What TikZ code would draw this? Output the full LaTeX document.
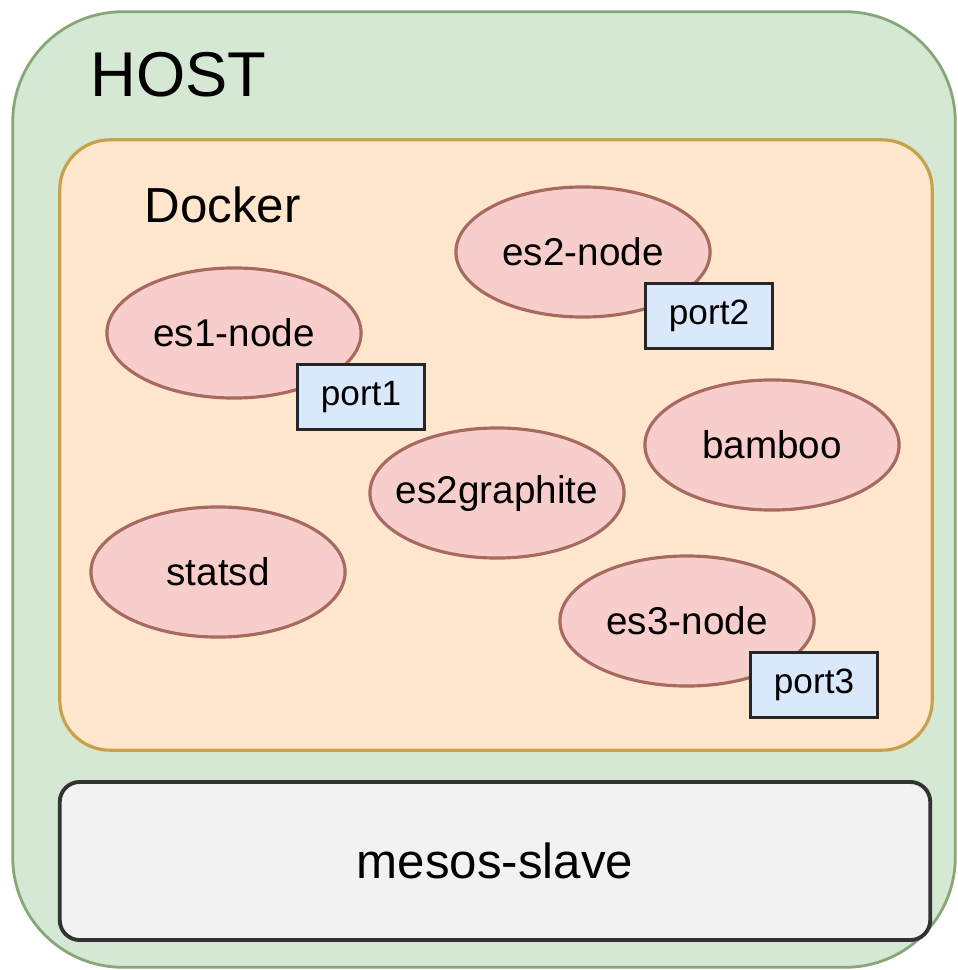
\documentclass[tikz,border=0pt]{standalone}
\usepackage{fontspec}
\setmainfont{Liberation Sans}
\usetikzlibrary{positioning, shapes.geometric}

\definecolor{hostfill}{HTML}{D5E8D4}
\definecolor{hostline}{HTML}{86A878}
\definecolor{dockfill}{HTML}{FFE6CC}
\definecolor{dockline}{HTML}{C9A04A}
\definecolor{contfill}{HTML}{F8CECC}
\definecolor{contline}{HTML}{A86A60}
\definecolor{portfill}{HTML}{DAE8FC}
\definecolor{slavefill}{HTML}{F2F2F2}

\begin{document}
\begin{tikzpicture}[x=0.01cm, y=0.01cm,
        container/.style={draw=contline, fill=contfill, ellipse, line width=0.9pt,
            minimum width=2.54cm, minimum height=1.3cm, inner sep=-4pt, font=\fontsize{11}{13}\selectfont},
        portbox/.style={draw=black!85, fill=portfill, rectangle, line width=1.1pt,
            minimum width=1.27cm, minimum height=0.65cm, inner sep=0pt, font=\fontsize{10}{12}\selectfont}]
        \useasboundingbox (0,0) rectangle (957,-970);

        % host and docker boxes
        \node[draw=hostline, fill=hostfill, rounded corners=1.1cm, line width=0.8pt,
            minimum width=9.42cm, minimum height=9.55cm] (host) at (484,-489.5) {};
        \node[draw=dockline, fill=dockfill, rounded corners=0.5cm, line width=0.9pt,
            minimum width=8.72cm, minimum height=6.10cm] (docker) at (496,-445) {};
        \node[anchor=base west, inner sep=0pt, font=\fontsize{18}{20}\selectfont] (hostlabel) at (90,-97) {HOST};
        \node[anchor=base west, inner sep=0pt, font=\fontsize{14}{16}\selectfont] (docklabel) at (144,-222) {Docker};

        % containers
        \node[container] (es2) at (583,-252) {es2-node};
        \node[container] (es1) at (234,-333) {es1-node};
        \node[container] (bamboo) at (772,-445) {bamboo};
        \node[container] (graphite) at (497,-493) {es2graphite};
        \node[container] (statsd) at (218,-572) {statsd};
        \node[container] (es3) at (687,-621) {es3-node};

        % ports
        \node[portbox] (port1) at (361,-397) {port1};
        \node[portbox] (port2) at (709,-316) {port2};
        \node[portbox] (port3) at (814,-685) {port3};

        % mesos slave
        \node[draw=black!80, fill=slavefill, rounded corners=0.2cm, line width=1.1pt,
            minimum width=8.70cm, minimum height=1.58cm, font=\fontsize{14}{16}\selectfont] (slave) at (495,-861) {mesos-slave};
    \end{tikzpicture}
\end{document}
